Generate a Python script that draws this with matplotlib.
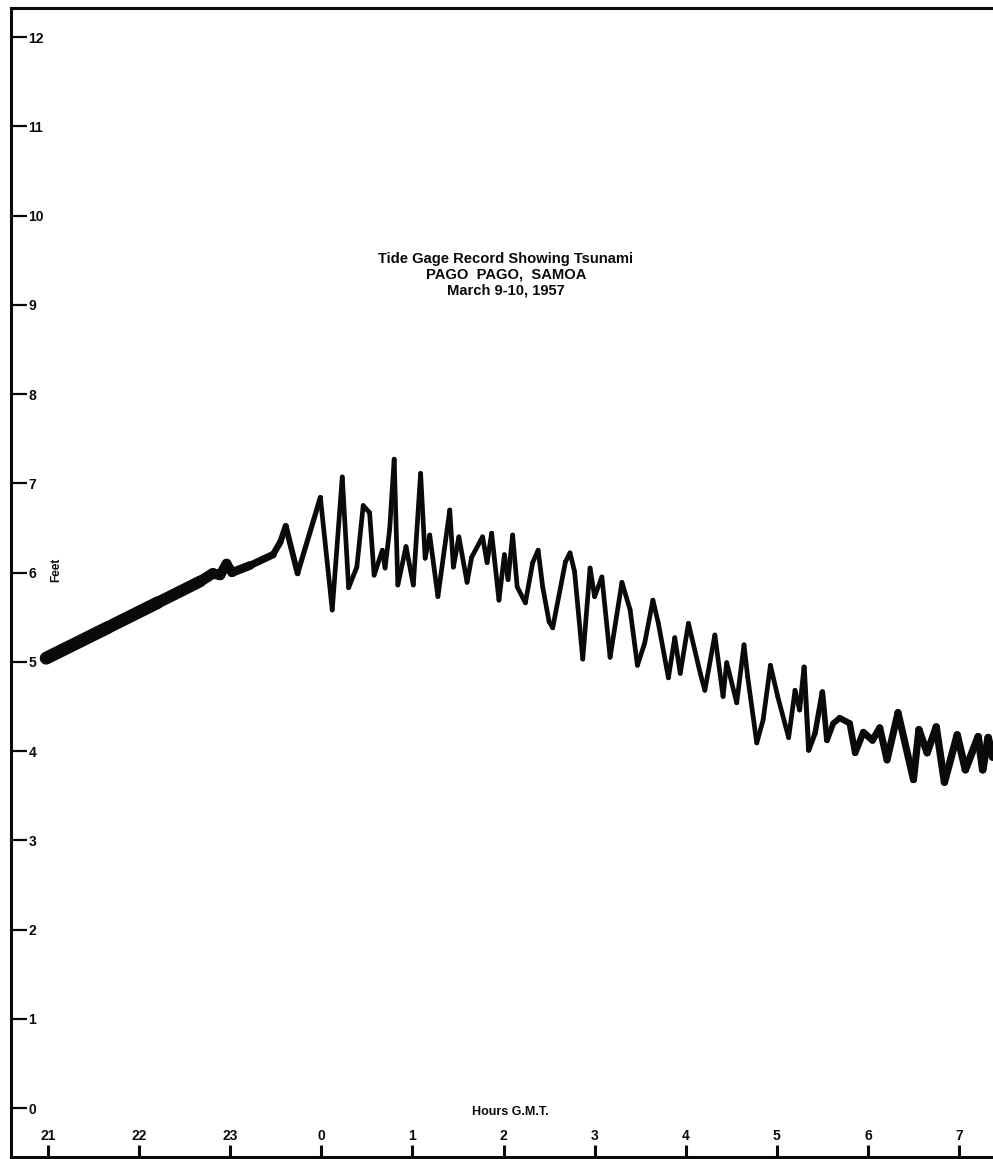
import numpy as np
import matplotlib
matplotlib.use("Agg")
import matplotlib.pyplot as plt
from matplotlib.collections import LineCollection

# ---- data (hours counted continuously from 21 h on March 9; 24 = 0 h March 10) ----
hours = [20.98, 21.65, 22.20, 22.67, 22.81, 22.89, 22.96, 23.02, 23.22, 23.47,
         23.55, 23.61, 23.74, 23.99,
         24.12, 24.23, 24.30, 24.39, 24.46, 24.53, 24.58, 24.67, 24.70, 24.75,
         24.80, 24.84, 24.93, 25.01, 25.09, 25.14, 25.19, 25.28, 25.41, 25.45,
         25.51, 25.60, 25.65, 25.77, 25.82, 25.87, 25.95, 26.01, 26.05, 26.10,
         26.15, 26.24, 26.32, 26.38, 26.43, 26.50, 26.54, 26.68, 26.73, 26.78,
         26.87, 26.95, 27.00, 27.08, 27.17, 27.30, 27.39, 27.47, 27.55, 27.64,
         27.70, 27.81, 27.88, 27.94, 28.03, 28.16, 28.21, 28.32, 28.41, 28.45,
         28.56, 28.64, 28.68, 28.78, 28.85, 28.93, 29.01, 29.13, 29.20, 29.25,
         29.30, 29.35, 29.42, 29.50, 29.55, 29.62, 29.69, 29.80, 29.86, 29.95,
         30.05, 30.13, 30.21, 30.33, 30.50, 30.56, 30.65, 30.75, 30.84, 30.98,
         31.07, 31.21, 31.26, 31.32, 31.37]
feet = [5.04, 5.38, 5.66, 5.90, 5.99, 5.97, 6.10, 6.00, 6.08, 6.20,
        6.34, 6.52, 5.99, 6.84,
        5.58, 7.07, 5.83, 6.06, 6.75, 6.67, 5.97, 6.25, 6.05, 6.48,
        7.27, 5.86, 6.29, 5.86, 7.11, 6.16, 6.42, 5.73, 6.70, 6.06,
        6.40, 5.89, 6.17, 6.40, 6.11, 6.44, 5.69, 6.20, 5.92, 6.42,
        5.84, 5.66, 6.11, 6.25, 5.84, 5.45, 5.38, 6.12, 6.22, 6.01,
        5.03, 6.05, 5.73, 5.95, 5.05, 5.89, 5.58, 4.96, 5.21, 5.69,
        5.43, 4.82, 5.27, 4.87, 5.43, 4.87, 4.68, 5.30, 4.61, 4.99,
        4.54, 5.19, 4.83, 4.09, 4.35, 4.96, 4.61, 4.15, 4.68, 4.46,
        4.94, 4.01, 4.20, 4.66, 4.12, 4.31, 4.37, 4.31, 3.98, 4.21,
        4.12, 4.26, 3.90, 4.43, 3.68, 4.24, 3.98, 4.27, 3.65, 4.18,
        3.79, 4.16, 3.79, 4.15, 3.93]

x_ticks = [21, 22, 23, 24, 25, 26, 27, 28, 29, 30, 31]
x_tick_labels = ["21", "22", "23", "0", "1", "2", "3", "4", "5", "6", "7"]
y_ticks = list(range(0, 13))
y_tick_labels = [str(v) for v in y_ticks]

title_lines = ["Tide Gage Record Showing Tsunami", "PAGO  PAGO,  SAMOA", "March 9-10, 1957"]
x_label = "Hours G.M.T."
y_label = "Feet"

# ---- figure ----
plt.rcParams['font.family'] = ['Liberation Sans', 'DejaVu Sans']
plt.rcParams['font.weight'] = 'bold'

W, H = 993, 1159
fig = plt.figure(figsize=(W / 100, H / 100), dpi=100)
ax = fig.add_axes([11 / W, 2 / H, (W - 11) / W, (1157 - 8) / H])

ink = "#0a0a0a"

t = np.asarray(hours)
f = np.asarray(feet)
pts = np.column_stack([t, f]).reshape(-1, 1, 2)
segs = np.concatenate([pts[:-1], pts[1:]], axis=1)
tm = 0.5 * (t[:-1] + t[1:])
widths = np.interp(tm, [21.0, 22.2, 22.7, 23.2, 23.55, 24.0, 29.2, 30.0, 31.4],
                   [9.4, 9.0, 8.0, 6.0, 4.5, 3.4, 3.4, 5.0, 5.5])
lc = LineCollection(segs, linewidths=widths, colors=ink, capstyle='round',
                    joinstyle='round')
ax.add_collection(lc)

ax.set_xlim(20.594, 31.373)
ax.set_ylim(-0.549, 12.325)

for side in ['left', 'top', 'bottom']:
    ax.spines[side].set_linewidth(2.2)
    ax.spines[side].set_color(ink)
ax.spines['right'].set_visible(False)

ax.set_xticks(x_ticks)
ax.set_xticklabels(x_tick_labels)
ax.set_yticks(y_ticks)
ax.set_yticklabels(y_tick_labels)

ax.tick_params(axis='y', direction='in', length=11.5, width=1.6, pad=-12.5,
               labelsize=10, colors=ink)
ax.tick_params(axis='x', direction='in', length=8.5, width=2.2, pad=-10,
               labelsize=10, colors=ink)
plt.setp(ax.get_yticklabels(), ha='left', fontweight='bold')
plt.setp(ax.get_xticklabels(), va='bottom', fontweight='bold')

ax.set_ylabel(y_label, fontsize=8.5, fontweight='bold', color=ink, va='center')
ax.yaxis.set_label_coords(0.0458, 0.511)
ax.set_xlabel(x_label, fontsize=9, fontweight='bold', color=ink, va='center')
ax.xaxis.set_label_coords(0.508, 0.039)

ax.text(0.504, 0.768, "\n".join(title_lines), transform=ax.transAxes,
        ha='center', va='center', fontsize=10.6, fontweight='bold',
        color=ink, linespacing=1.15)

fig.savefig("out.png", dpi=100)
